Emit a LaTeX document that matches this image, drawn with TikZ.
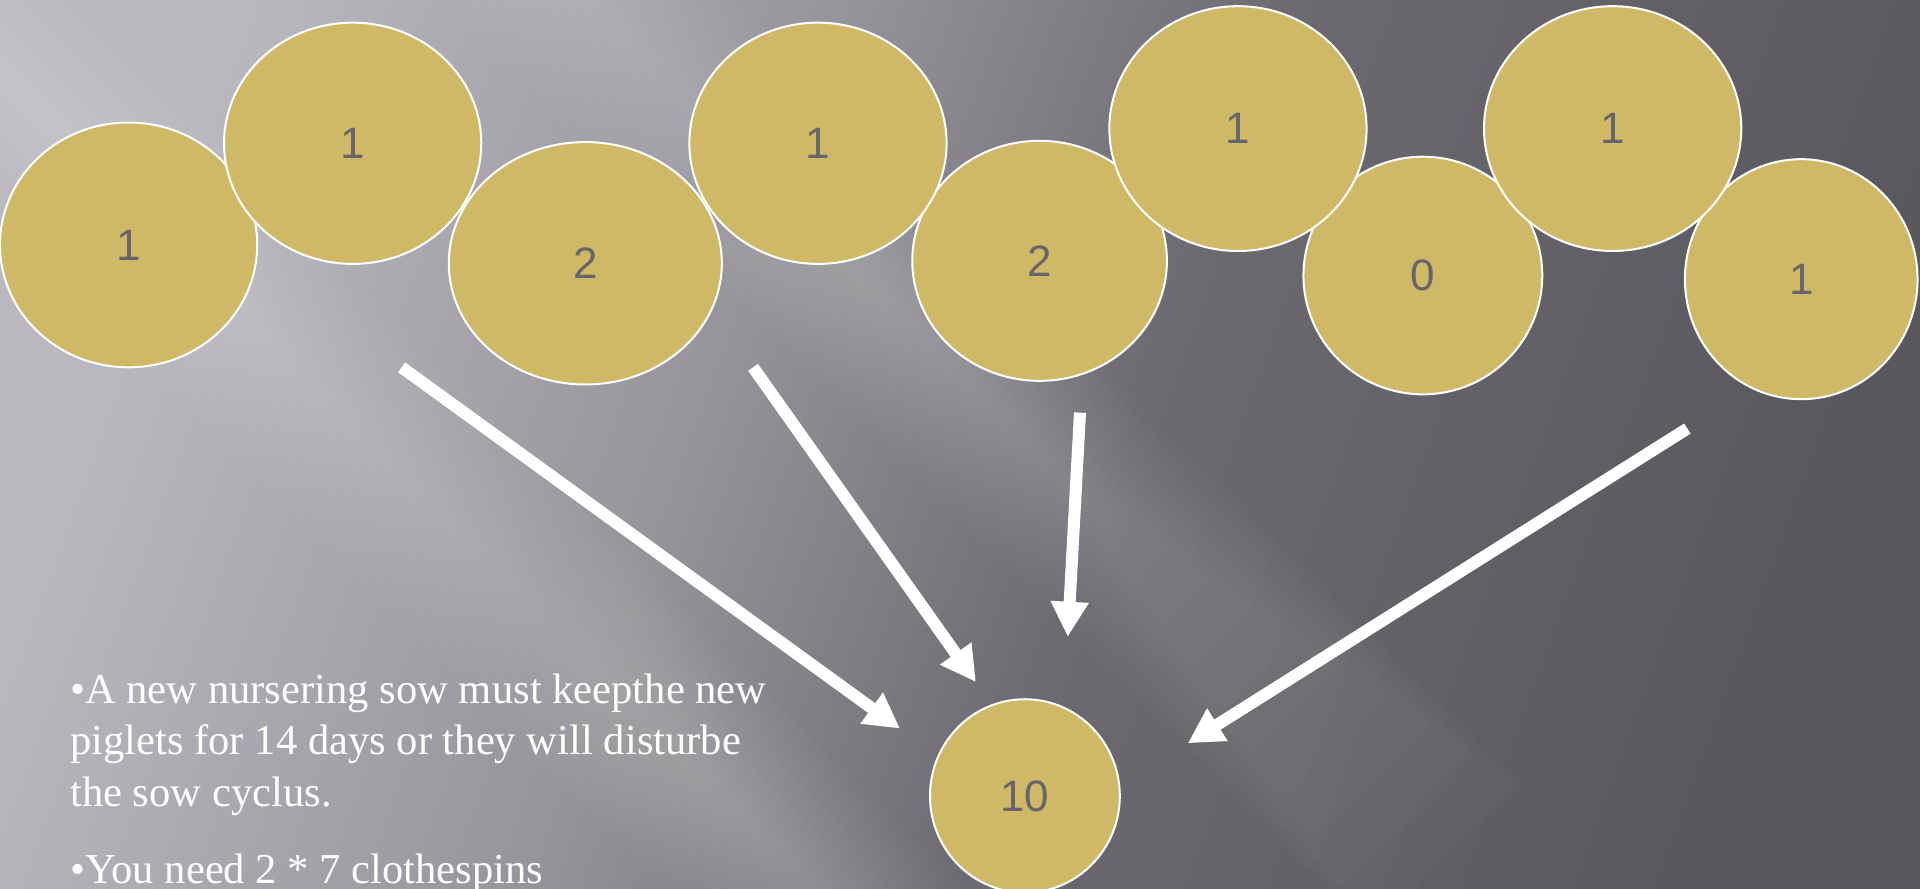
\documentclass[tikz,border=0pt]{standalone}
\usepackage{fontspec}
\setmainfont{Liberation Serif}
\newfontfamily\numfont{Liberation Sans}
\usetikzlibrary{shapes.geometric}
\usetikzlibrary{arrows.meta}

\definecolor{coinfill}{HTML}{CFB967}
\definecolor{numgray}{HTML}{67656C}
\definecolor{bgA}{HTML}{BAB7BF}
\definecolor{bgB}{HTML}{97949B}
\definecolor{bgC}{HTML}{6C6A70}
\definecolor{bgD}{HTML}{5A585E}

\pgfdeclarehorizontalshading{slide}{100bp}{color(0bp)=(bgA); color(25bp)=(bgA); color(42bp)=(bgB); color(55bp)=(bgC); color(75bp)=(bgD); color(100bp)=(bgD)}

\tikzset{
  coin/.style={ellipse, draw=white, line width=1pt, fill=coinfill, text=numgray,
    font=\numfont\fontsize{22}{26}\selectfont, inner sep=0pt},
  fat/.style={draw=white, line width=6pt, -{Triangle[length=17.5pt,width=18pt]}},
  streak/.style={fill=white, opacity=0.018},
}

\begin{document}
\begin{tikzpicture}[x=0.6122pt,y=-0.6122pt]
\useasboundingbox (0,0) rectangle (1568,726);
\shade[shading=slide, shading angle=-20] (0,0) rectangle (1568,726);
\foreach \w in {12,24,...,120} {
  \fill[streak] (480-\w,0) -- (480+\w,0) -- (880+3*\w,400+2*\w) -- (880+2*\w,400+3*\w) -- cycle;
  \fill[streak] (-60-\w,0) -- (-60+\w,0) -- (666+\w,726) -- (666-\w,726) -- cycle;
}

% lower row first, upper row on top
\foreach \n/\x/\y/\w/\h/\t in {a/105/200/128.6/122.4/1, c/478/215/136.5/121.2/2,
  e/849/213/127.3/120/2, g/1162/225/119.4/118.8/0, i/1471/228/116.3/120/1,
  b/288/117/128.6/120.6/1, d/668/117/128.6/120.6/1, f/1011/105/128.6/122.4/1,
  h/1317/105/128.6/122.4/1}
  \node[coin, minimum width=\w pt, minimum height=\h pt] (\n) at (\x,\y) {\t};
\node[coin, minimum width=94.9pt, minimum height=96.7pt] (sum) at (837,650) {10};

\coordinate (s1) at (328,300);  \coordinate (t1) at (735,595);
\coordinate (s2) at (615,300);  \coordinate (t2) at (797,557);
\coordinate (s3) at (882,337);  \coordinate (t3) at (872,520);
\coordinate (s4) at (1378,350); \coordinate (t4) at (970,607);
\draw[fat] (s1) -- (t1);
\draw[fat] (s2) -- (t2);
\draw[fat] (s3) -- (t3);
\draw[fat] (s4) -- (t4);

\node[anchor=north west, inner sep=0pt, align=left, text=white,
  font=\fontsize{21.3}{25.7}\selectfont] (note) at (57,550)
  {\textbullet A new nursering sow must keepthe new\\
   piglets for 14 days or they will disturbe\\
   the sow cyclus.\\[12.9pt]
   \textbullet You need 2 * 7 clothespins};
\end{tikzpicture}
\end{document}
